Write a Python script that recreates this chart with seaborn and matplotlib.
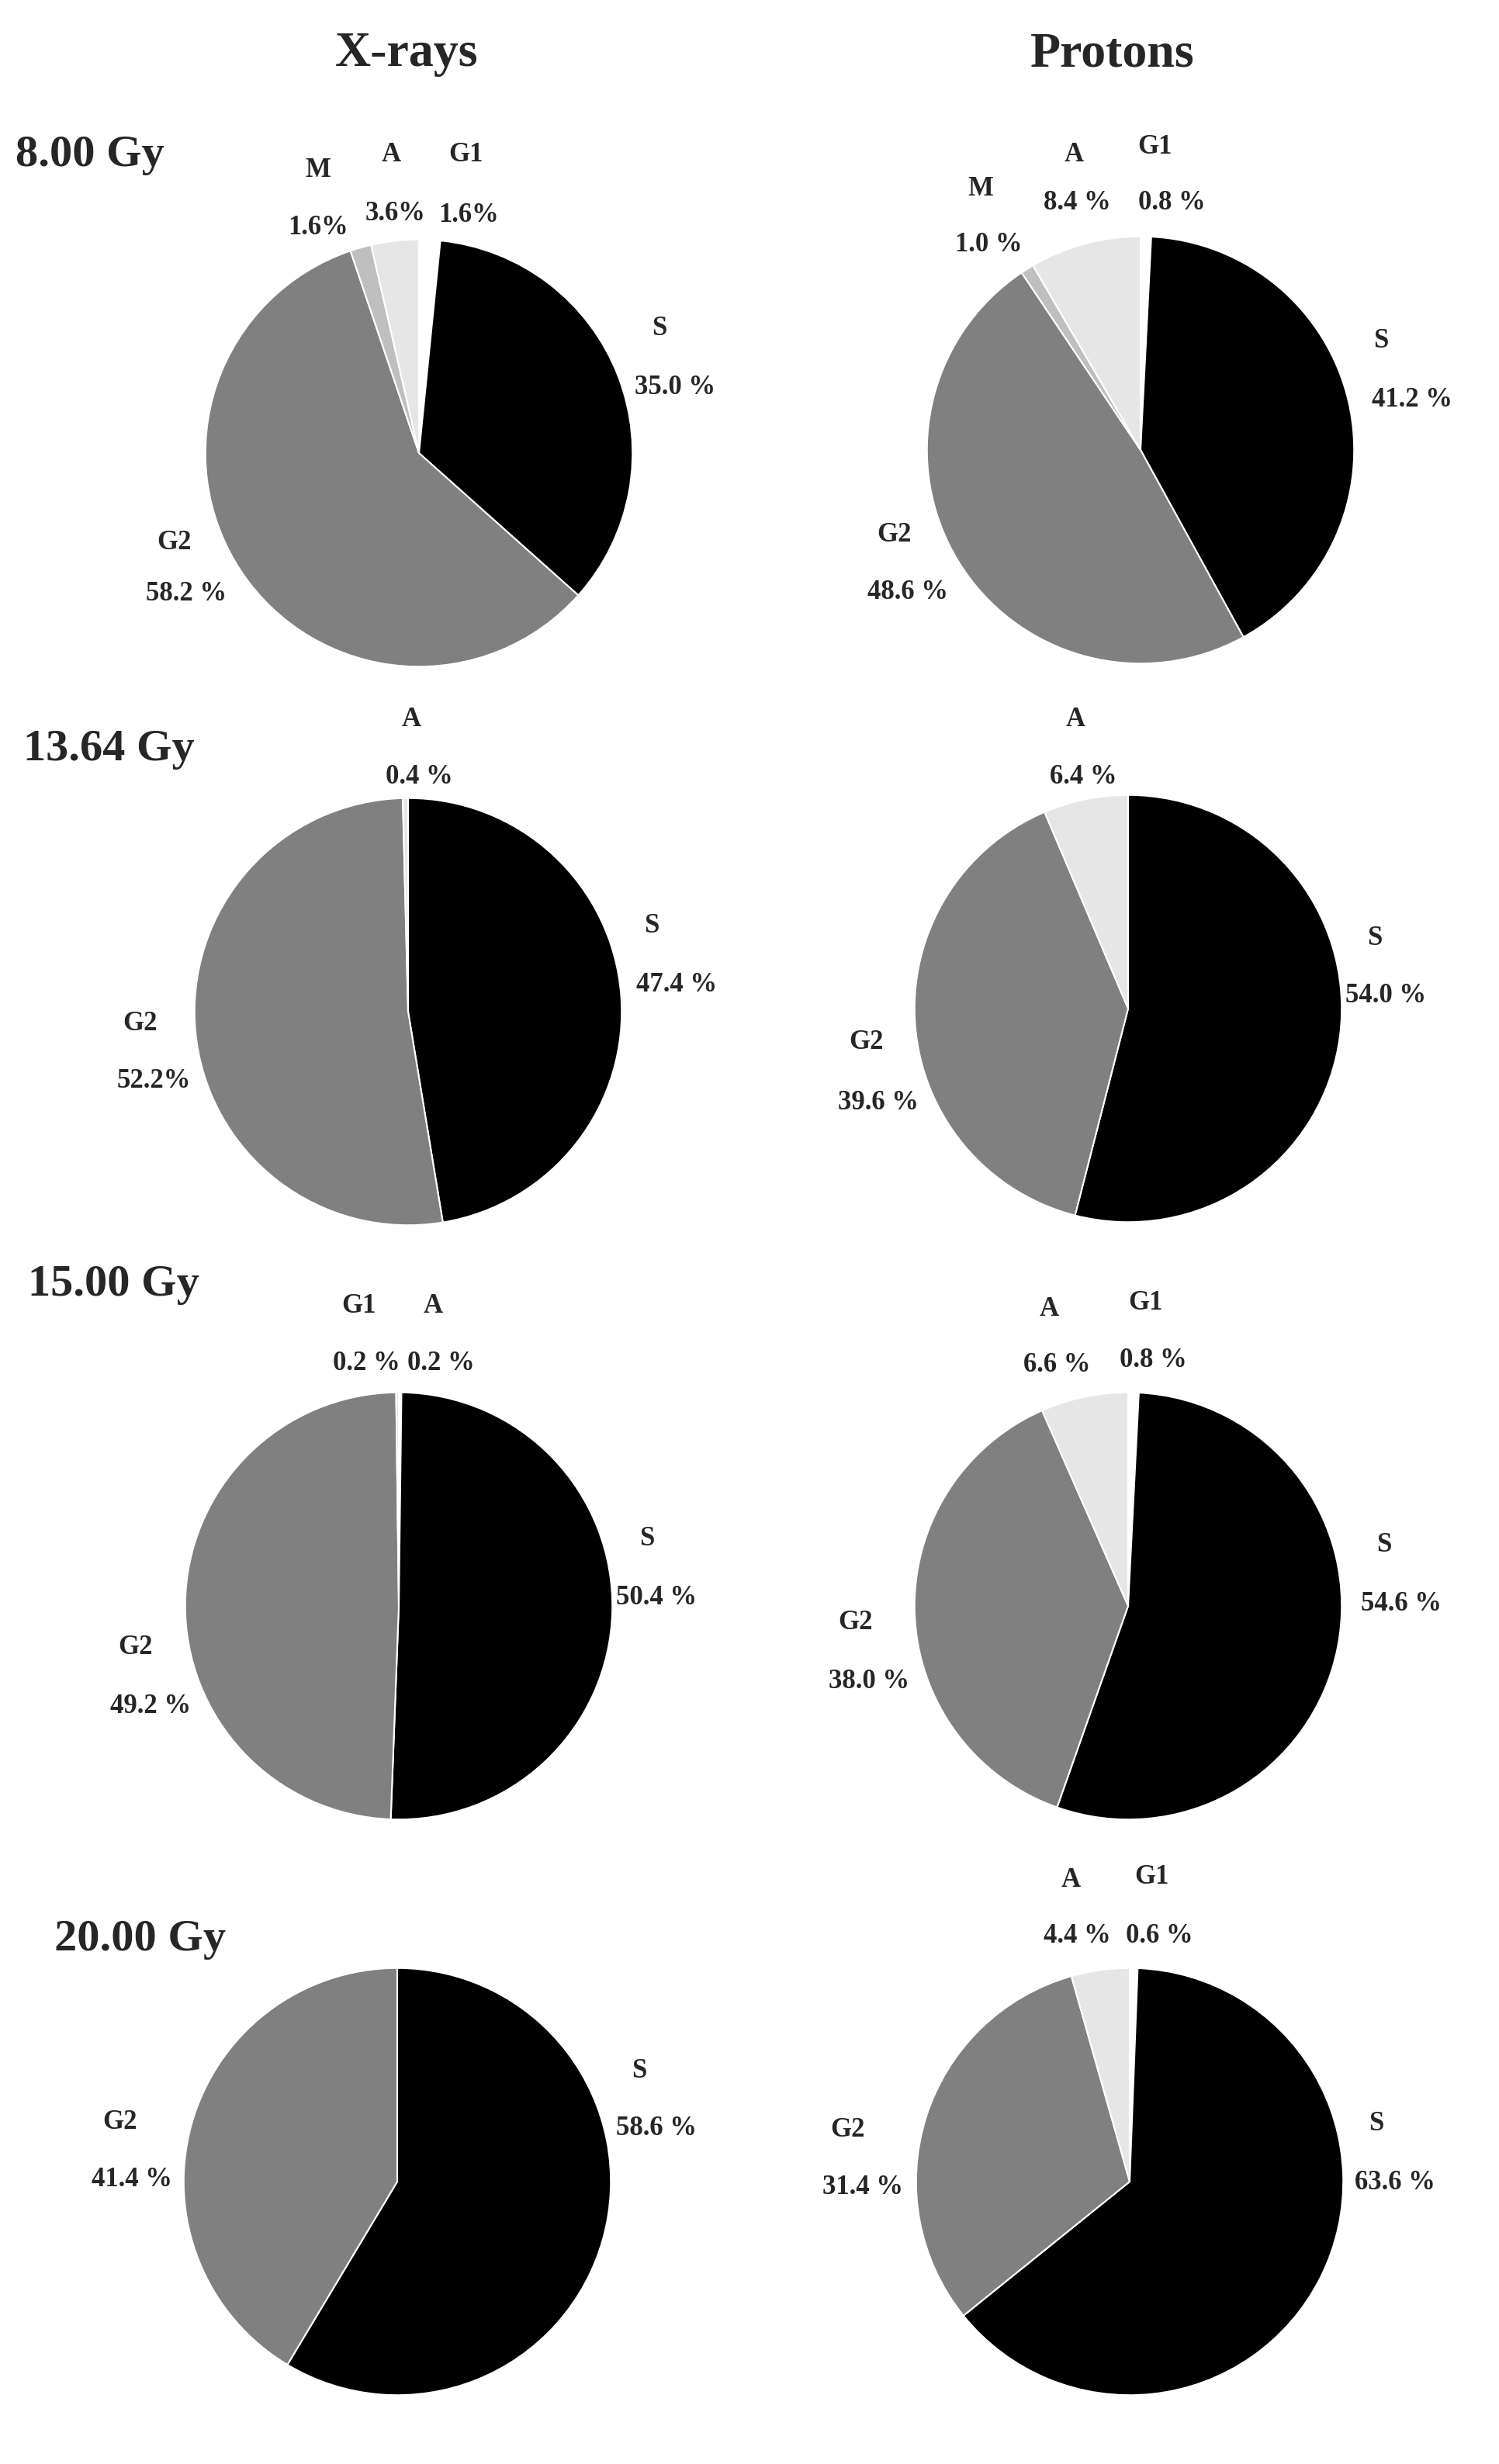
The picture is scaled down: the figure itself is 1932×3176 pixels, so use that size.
import matplotlib
matplotlib.use("Agg")
import matplotlib.pyplot as plt
import seaborn as sns

sns.set_theme(style="white")
plt.rcParams['font.family'] = ['Liberation Serif', 'DejaVu Serif']

phases = ["G1", "S", "G2", "M", "A"]
colors = {"G1": "#ffffff", "S": "#000000", "G2": "#808080", "M": "#bfbfbf", "A": "#e6e6e6"}

xr_8 = [1.6, 35.0, 58.2, 1.6, 3.6]
pr_8 = [0.8, 41.2, 48.6, 1.0, 8.4]
xr_13 = [0.0, 47.4, 52.2, 0.0, 0.4]
pr_13 = [0.0, 54.0, 39.6, 0.0, 6.4]
xr_15 = [0.2, 50.4, 49.2, 0.0, 0.2]
pr_15 = [0.8, 54.6, 38.0, 0.0, 6.6]
xr_20 = [0.0, 58.6, 41.4, 0.0, 0.0]
pr_20 = [0.6, 63.6, 31.4, 0.0, 4.4]

pct_text = {
    "xr_8": {"G1": "1.6%", "S": "35.0 %", "G2": "58.2 %", "M": "1.6%", "A": "3.6%"},
    "pr_8": {"G1": "0.8 %", "S": "41.2 %", "G2": "48.6 %", "M": "1.0 %", "A": "8.4 %"},
    "xr_13": {"S": "47.4 %", "G2": "52.2%", "A": "0.4 %"},
    "pr_13": {"S": "54.0 %", "G2": "39.6 %", "A": "6.4 %"},
    "xr_15": {"G1": "0.2 %", "S": "50.4 %", "G2": "49.2 %", "A": "0.2 %"},
    "pr_15": {"G1": "0.8 %", "S": "54.6 %", "G2": "38.0 %", "A": "6.6 %"},
    "xr_20": {"S": "58.6 %", "G2": "41.4 %"},
    "pr_20": {"G1": "0.6 %", "S": "63.6 %", "G2": "31.4 %", "A": "4.4 %"},
}

W, H = 966.0, 1588.0
# layout (reference pixel coords at half scale): center x, center y, radius
layout = {
    "xr_8": (270, 292, 139), "pr_8": (735, 290, 139),
    "xr_13": (263, 652, 139), "pr_13": (727, 650, 139),
    "xr_15": (257, 1035, 139), "pr_15": (727, 1035, 139),
    "xr_20": (256, 1406, 139), "pr_20": (728, 1406, 139),
}
label_pos = {
    "xr_8": {"M": ((205, 110), (205, 147)), "A": ((252, 100), (255, 138)), "G1": ((300, 100), (302, 139)),
             "S": ((425, 212), (435, 250)), "G2": ((112, 350), (120, 383))},
    "pr_8": {"M": ((632, 122), (637, 158)), "A": ((692, 100), (694, 131)), "G1": ((744, 95), (755, 131)),
             "S": ((890, 220), (910, 258)), "G2": ((576, 345), (585, 382))},
    "xr_13": {"A": ((265, 464), (270, 501)), "S": ((420, 597), (436, 635)), "G2": ((90, 660), (99, 697))},
    "pr_13": {"A": ((693, 464), (698, 501)), "S": ((886, 605), (893, 642)), "G2": ((558, 672), (566, 711))},
    "xr_15": {"G1": ((231, 842), (236, 879)), "A": ((279, 842), (284, 879)),
              "S": ((417, 992), (423, 1030)), "G2": ((87, 1062), (97, 1100))},
    "pr_15": {"A": ((676, 844), (681, 880)), "G1": ((738, 840), (743, 877)),
              "S": ((892, 996), (903, 1034)), "G2": ((551, 1046), (560, 1084))},
    "xr_20": {"S": ((412, 1335), (423, 1372)), "G2": ((77, 1368), (85, 1405))},
    "pr_20": {"A": ((690, 1212), (694, 1248)), "G1": ((742, 1210), (747, 1248)),
              "S": ((887, 1369), (899, 1407)), "G2": ((546, 1373), (556, 1410))},
}
data = {"xr_8": xr_8, "pr_8": pr_8, "xr_13": xr_13, "pr_13": pr_13,
        "xr_15": xr_15, "pr_15": pr_15, "xr_20": xr_20, "pr_20": pr_20}

fig = plt.figure(figsize=(19.32, 31.76), dpi=100)
fig.patch.set_facecolor("white")

def fx(x): return x / W
def fy(y): return 1 - y / H

for key, vals in data.items():
    cx, cy, r = layout[key]
    ax = fig.add_axes([fx(cx - r), fy(cy + r), 2 * r / W, 2 * r / H])
    v = [x for x in vals if x > 0]
    c = [colors[p] for p, x in zip(phases, vals) if x > 0]
    ax.pie(v, colors=c, startangle=90, counterclock=False, radius=1,
           wedgeprops=dict(edgecolor="white", linewidth=1.5))
    ax.set_xlim(-1.01, 1.01); ax.set_ylim(-1.01, 1.01)
    ax.axis("off")
    for ph, ((nx, ny), (px, py)) in label_pos[key].items():
        fig.text(fx(nx), fy(ny), ph, ha="center", va="center", fontsize=25, fontweight="bold")
        fig.text(fx(px), fy(py), pct_text[key][ph], ha="center", va="center", fontsize=25, fontweight="bold")

fig.text(fx(262), fy(35), "X-rays", ha="center", va="center", fontsize=46, fontweight="bold")
fig.text(fx(717), fy(35), "Protons", ha="center", va="center", fontsize=46, fontweight="bold")
for txt, x, y in [("8.00 Gy", 10, 100), ("13.64 Gy", 15, 483), ("15.00 Gy", 18, 828), ("20.00 Gy", 35, 1250)]:
    fig.text(fx(x), fy(y), txt, ha="left", va="center", fontsize=42, fontweight="bold")

fig.savefig("out.png", dpi=100, facecolor="white")
